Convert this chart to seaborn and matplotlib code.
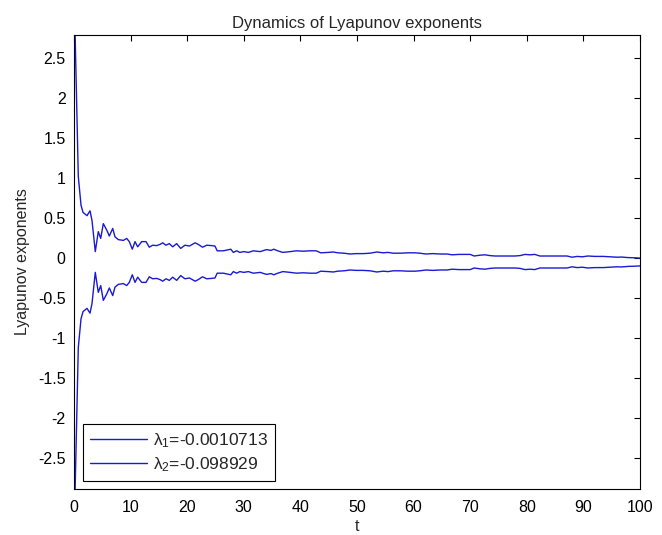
import matplotlib
matplotlib.use("Agg")
import matplotlib.pyplot as plt
import seaborn as sns
import pandas as pd

t = [0.2, 0.76, 1.24, 1.6, 2.3, 2.83, 3.18, 3.76, 4.29, 4.72,
     5.18, 5.78, 6.24, 6.84, 7.24, 7.83, 8.3, 8.71, 9.31, 9.77,
     10.3, 10.78, 11.25, 11.96, 12.72, 13.3, 13.9, 14.6, 15.2, 15.67,
     16.25, 16.84, 17.44, 18.14, 18.85, 19.6, 20.4, 21.4, 21.96, 22.7,
     23.45, 24.3, 24.9, 25.3, 26.4, 27.7, 28.15, 28.75, 29.3, 30.0,
     30.8, 31.7, 32.9, 34.0, 34.8, 35.3, 36.0, 36.9, 38.2, 39.3,
     40.5, 41.7, 42.8, 43.6, 44.9, 45.8, 46.6, 47.7, 48.8, 49.8,
     51.1, 52.3, 53.5, 54.6, 55.5, 56.4, 57.6, 59.0, 60.2, 61.1,
     62.2, 63.4, 64.7, 65.9, 66.8, 68.0, 69.3, 70.0, 70.7, 71.7,
     72.6, 73.5, 74.4, 76.1, 77.9, 78.8, 79.7, 80.6, 81.4, 82.3,
     84.1, 85.9, 87.1, 88.0, 88.9, 89.8, 90.8, 92.0, 93.5, 94.7,
     95.9, 96.8, 97.9, 98.9, 100.0]

lam1 = [2.79, 1.02, 0.66, 0.57, 0.53, 0.59, 0.47, 0.08, 0.33, 0.245,
        0.43, 0.35, 0.275, 0.37, 0.265, 0.23, 0.225, 0.22, 0.245, 0.205,
        0.11, 0.205, 0.14, 0.205, 0.205, 0.135, 0.16, 0.155, 0.17, 0.19,
        0.16, 0.18, 0.14, 0.18, 0.12, 0.16, 0.15, 0.19, 0.17, 0.135,
        0.16, 0.155, 0.15, 0.09, 0.09, 0.11, 0.07, 0.09, 0.07, 0.08,
        0.07, 0.09, 0.08, 0.105, 0.095, 0.11, 0.09, 0.07, 0.08, 0.09,
        0.085, 0.09, 0.09, 0.065, 0.07, 0.075, 0.065, 0.06, 0.05, 0.055,
        0.055, 0.06, 0.075, 0.065, 0.07, 0.06, 0.06, 0.065, 0.065, 0.06,
        0.05, 0.055, 0.05, 0.05, 0.04, 0.045, 0.045, 0.045, 0.025, 0.035,
        0.04, 0.03, 0.025, 0.025, 0.025, 0.03, 0.045, 0.04, 0.045, 0.025,
        0.025, 0.025, 0.025, 0.01, 0.02, 0.015, 0.025, 0.02, 0.02, 0.015,
        0.01, 0.012, 0.005, 0.003, -0.001]

lam2 = [-2.89, -1.12, -0.76, -0.67, -0.63, -0.69, -0.57, -0.18, -0.43, -0.345,
        -0.53, -0.45, -0.375, -0.47, -0.365, -0.33, -0.325, -0.32, -0.345, -0.305,
        -0.21, -0.305, -0.24, -0.305, -0.305, -0.235, -0.26, -0.255, -0.27, -0.29,
        -0.26, -0.28, -0.24, -0.28, -0.22, -0.26, -0.25, -0.29, -0.27, -0.235,
        -0.26, -0.255, -0.25, -0.19, -0.19, -0.21, -0.17, -0.19, -0.17, -0.18,
        -0.17, -0.19, -0.18, -0.205, -0.195, -0.21, -0.19, -0.17, -0.18, -0.19,
        -0.185, -0.19, -0.19, -0.165, -0.17, -0.175, -0.165, -0.16, -0.15, -0.155,
        -0.155, -0.16, -0.175, -0.165, -0.17, -0.16, -0.16, -0.165, -0.165, -0.16,
        -0.15, -0.155, -0.15, -0.15, -0.14, -0.145, -0.145, -0.145, -0.125, -0.135,
        -0.14, -0.13, -0.125, -0.125, -0.125, -0.13, -0.145, -0.14, -0.145, -0.125,
        -0.125, -0.125, -0.125, -0.11, -0.12, -0.115, -0.125, -0.12, -0.12, -0.115,
        -0.11, -0.112, -0.105, -0.103, -0.0989]

labels = [r"$\lambda_1$=-0.0010713", r"$\lambda_2$=-0.098929"]
xticks = list(range(0, 101, 10))
yticks = [-2.5, -2, -1.5, -1, -0.5, 0, 0.5, 1, 1.5, 2, 2.5]
title = "Dynamics of Lyapunov exponents"

sns.set_theme(style="white")
plt.rcParams["font.family"] = ["Liberation Sans", "DejaVu Sans"]
plt.rcParams["mathtext.fontset"] = "custom"
plt.rcParams["mathtext.rm"] = "Liberation Sans"
plt.rcParams["mathtext.it"] = "Liberation Sans"
plt.rcParams["axes.unicode_minus"] = False

df = pd.concat([
    pd.DataFrame({"t": t, "v": lam1, "s": labels[0]}),
    pd.DataFrame({"t": t, "v": lam2, "s": labels[1]}),
])

fig = plt.figure(figsize=(6.62, 5.35), dpi=100)
ax = fig.add_axes([74 / 662, 1 - 489 / 535, 566 / 662, 454 / 535])
col = "#1a1ad2"
sns.lineplot(data=df, x="t", y="v", hue="s", palette=[col, col], ax=ax,
             linewidth=1.0, sort=False, estimator=None)

ax.set_xlim(0, 100)
ax.set_ylim(min(lam2), max(lam1))
ax.set_xticks(xticks)
ax.set_xticklabels([str(v) for v in xticks])
ax.set_yticks(yticks)
ax.set_yticklabels([f"{v:g}" for v in yticks])
ax.tick_params(direction="in", length=4, width=0.8, top=True, right=True,
               labelsize=11.5, colors="black", pad=6)
ax.tick_params(axis="x", pad=8)
for sp in ax.spines.values():
    sp.set_visible(True)
    sp.set_color("black")
    sp.set_linewidth(0.8)
ax.set_title(title, fontsize=12, pad=5)
ax.set_xlabel("t", fontsize=11.5, labelpad=3)
ax.set_ylabel("Lyapunov exponents", fontsize=11.5, labelpad=6)

leg = ax.legend(loc="lower left", bbox_to_anchor=(0.016, 0.018),
                borderaxespad=0, fancybox=False, framealpha=1,
                edgecolor="black", fontsize=12.5, handlelength=3.3,
                handletextpad=0.35, labelspacing=0.3, borderpad=0.4)
leg.get_frame().set_linewidth(0.8)

fig.savefig("out.png", dpi=100)
